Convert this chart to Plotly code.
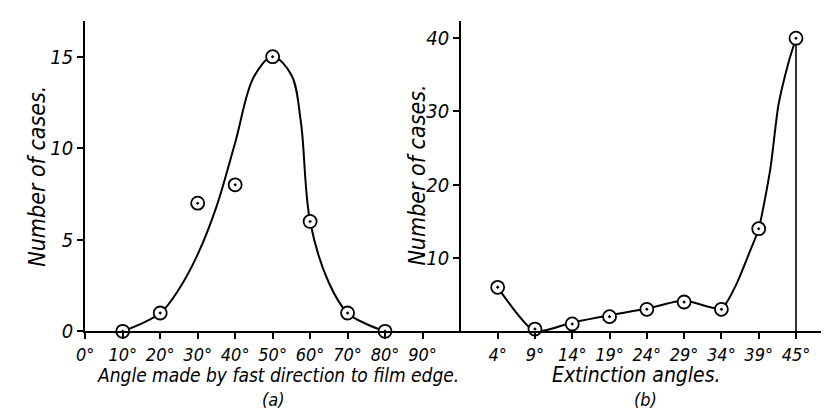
import plotly.graph_objects as go

# ---------------- data ----------------
# (a) angle made by fast direction to film edge
a_angles = [10, 20, 30, 40, 50, 60, 70, 80]
a_counts = [0, 1, 7, 8, 15, 6, 1, 0]
# smooth curve drawn through the points
a_curve_x = [10, 20, 25, 30, 35, 40, 45, 50, 55, 57.5, 60, 65, 70, 75, 80]
a_curve_y = [0, 1, 2.3, 4.2, 6.8, 10.3, 13.9, 15, 14.0, 11.5, 6, 2.65, 1, 0.4, 0]
a_ticks = [0, 10, 20, 30, 40, 50, 60, 70, 80, 90]
a_ticktext = ["0°", "10°", "20°", "30°", "40°", "50°", "60°", "70°", "80°", "90°"]

# (b) extinction angles
b_labels = ["4°", "9°", "14°", "19°", "24°", "29°", "34°", "39°", "45°"]
b_counts = [6, 0.3, 1, 2, 3, 4, 3, 14, 40]
b_curve_pos = [0, 1, 2, 3, 4, 5, 6, 6.38, 6.74, 7, 7.31, 7.53, 7.8, 8]
b_curve_y = [6, 0, 1.2, 2.2, 3.1, 4.2, 3.1, 6.2, 10.6, 14, 22.1, 30.9, 36.7, 40]

FONT = "DejaVu Sans Condensed, Liberation Sans Narrow, DejaVu Sans"
W, H = 829, 412

def px(x):
    return x / W

def py(y):
    return 1 - y / H

fig = go.Figure()

# (a) curve and points
fig.add_trace(go.Scatter(x=a_curve_x, y=a_curve_y, mode="lines",
                         line=dict(color="black", width=2, shape="spline", smoothing=1.0),
                         xaxis="x", yaxis="y", hoverinfo="skip", cliponaxis=False))
fig.add_trace(go.Scatter(x=a_angles, y=a_counts, mode="markers",
                         marker=dict(symbol="circle-dot", size=13, color="white",
                                     line=dict(color="black", width=1.8)),
                         xaxis="x", yaxis="y", cliponaxis=False))

# (b) curve, vertical drop and points
fig.add_trace(go.Scatter(x=b_curve_pos, y=b_curve_y, mode="lines",
                         line=dict(color="black", width=2, shape="spline", smoothing=0.6),
                         xaxis="x2", yaxis="y2", hoverinfo="skip", cliponaxis=False))
fig.add_trace(go.Scatter(x=[len(b_labels) - 1, len(b_labels) - 1], y=[b_counts[-1], 0],
                         mode="lines", line=dict(color="black", width=1.6),
                         xaxis="x2", yaxis="y2", hoverinfo="skip", cliponaxis=False))
fig.add_trace(go.Scatter(x=list(range(len(b_labels))), y=b_counts, mode="markers",
                         marker=dict(symbol="circle-dot", size=13, color="white",
                                     line=dict(color="black", width=1.8)),
                         xaxis="x2", yaxis="y2", cliponaxis=False))

xtickfont = dict(family=FONT, size=18, color="black", style="italic")
ytickfont = dict(family=FONT, size=20, color="black", style="italic")
ydom = [py(333), py(13)]
common_ax = dict(showline=True, linecolor="black", linewidth=2, showgrid=False,
                 zeroline=False, ticks="outside", ticklen=6, tickwidth=1.5,
                 tickcolor="black")

fig.update_layout(
    width=W, height=H,
    margin=dict(l=0, r=0, t=0, b=0),
    paper_bgcolor="white", plot_bgcolor="white",
    showlegend=False,
    xaxis=dict(domain=[px(69), px(449)], range=[0, 100.3], tickvals=a_ticks,
               ticktext=a_ticktext, anchor="y", tickfont=xtickfont, **common_ax),
    yaxis=dict(domain=ydom, range=[0, 16.97], tickvals=[0, 5, 10, 15],
               anchor="x", tickfont=ytickfont, **common_ax),
    xaxis2=dict(domain=[px(449), 1.0], range=[-0.98, 9.1],
                tickvals=list(range(len(b_labels))), ticktext=b_labels,
                anchor="y2", tickfont=xtickfont, **common_ax),
    yaxis2=dict(domain=ydom, range=[0, 42.4], tickvals=[10, 20, 30, 40],
                anchor="x2", tickfont=ytickfont, **common_ax),
)

def tf(size):
    return dict(family=FONT, size=size, color="black", style="italic")

annots = [
    dict(text="Number of cases.", x=px(20), y=py(173), textangle=-90, font=tf(23)),
    dict(text="Number of cases.", x=px(404), y=py(172), textangle=-90, font=tf(23)),
    dict(text="Angle made by fast direction to film edge.", x=px(264), y=py(378), font=tf(19)),
    dict(text="(a)", x=px(259), y=py(403), font=tf(18)),
    dict(text="Extinction angles.", x=px(626), y=py(378), font=tf(21)),
    dict(text="(b)", x=px(635), y=py(403), font=tf(18)),
]
for a in annots:
    fig.add_annotation(xref="paper", yref="paper", showarrow=False,
                       xanchor="center", yanchor="middle", **a)

fig.write_html("out.html")
